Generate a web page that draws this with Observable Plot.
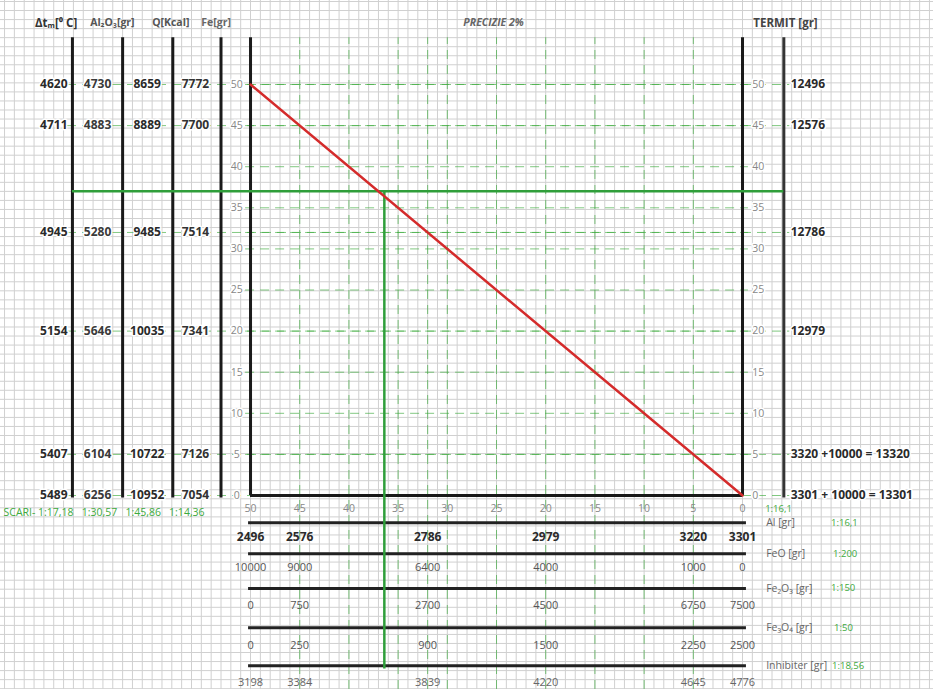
<!DOCTYPE html>
<html>
<head>
<meta charset="utf-8">
<script src="https://cdn.jsdelivr.net/npm/d3@7"></script>
<script src="https://cdn.jsdelivr.net/npm/@observablehq/plot@0.6"></script>
<style>
  html, body { margin: 0; padding: 0; background: #fff; }
  #chart svg { display: block; }
</style>
</head>
<body>
<div id="chart"></div>
<script>
// ---------- data ----------
const percentRows = [50, 45, 32, 20, 5, 0];
const deltaT = [4620, 4711, 4945, 5154, 5407, 5489];
const al2o3 = [4730, 4883, 5280, 5646, 6104, 6256];
const heatQ = [8659, 8889, 9485, 10035, 10722, 10952];
const feGr = [7772, 7700, 7514, 7341, 7126, 7054];
const termit = ["12496", "12576", "12786", "12979", "3320 +10000 = 13320", "3301 + 10000 = 13301"];
const alGr = [2496, 2576, 2786, 2979, 3220, 3301];
const feoGr = [10000, 9000, 6400, 4000, 1000, 0];
const fe2o3Gr = [0, 750, 2700, 4500, 6750, 7500];
const fe3o4Gr = [0, 250, 900, 1500, 2250, 2500];
const inhibGr = [3198, 3384, 3839, 4220, 4645, 4776];
const axisTicks = [50, 45, 40, 35, 30, 25, 20, 15, 10, 5, 0];
const gridLevels = [50, 45, 40, 35, 32, 30, 25, 20, 15, 10, 5];
const gridCols = [45, 40, 35, 32, 30, 25, 20, 15, 10, 5];
const redLine = [{p: 50, v: 50}, {p: 0, v: 0}];
const reading = {p: 36.4, v: 37};
const headers = ["Δtₘ[⁰ C]", "Al₂O₃[gr]", "Q[Kcal]", "Fe[gr]"];
const scari = "SCARI- 1:17,18   1:30,57   1:45,86   1:14,36";
const rowNames = ["Al [gr]", "FeO [gr]", "Fe₂O₃ [gr]", "Fe₃O₄ [gr]", "Inhibiter [gr]"];
const rowScales = ["1:16,1", "1:200", "1:150", "1:50", "1:18,56"];

// ---------- layout (in chart units) ----------
const colLineX = [68.1, 63.0, 57.9, 53.0];
const termitX = -4.2;
const topV = 55.7;
const bottomLinesV = [-3.3, -7.1, -11.3, -16.1, -20.7];
const bottomRowsV = [-5.1, -8.8, -13.4, -18.3, -22.8];
const scaleLabelX = [-9.0, -9.2, -9.0, -9.3, -9.1];
const headerV = 57.5;

const rows = (arr) => arr.map((d, i) => ({p: percentRows[i], t: String(d)}));
const GREEN = "#3daa3d";
const FONT = "'Open Sans', 'Liberation Sans', sans-serif";
const halo = {stroke: "white", strokeWidth: 3, paintOrder: "stroke"};

const chart = Plot.plot({
  width: 933,
  height: 689,
  margin: 0,
  x: {domain: [75.41, -19.41], range: [0, 933], axis: null},
  y: {domain: [-23.6, 60.22], range: [689, 0], axis: null},
  style: {background: "white", fontFamily: FONT},
  marks: [
    // graph paper
    Plot.ruleX(d3.range(-19, 76, 1), {stroke: "#d0d0d0", strokeWidth: 1}),
    Plot.ruleY(d3.range(-23.5, 60.3, 1.1), {stroke: "#d0d0d0", strokeWidth: 1}),

    // dashed green grid
    Plot.ruleX(gridCols, {y1: -23.6, y2: topV, stroke: GREEN, strokeOpacity: 0.65, strokeDasharray: "9,6", strokeWidth: 1}),
    Plot.ruleY(gridLevels, {x1: 50.5, x2: -0.6, stroke: GREEN, strokeOpacity: 0.65, strokeDasharray: "9,6", strokeWidth: 1}),
    Plot.ruleY(percentRows, {x1: 68.6, x2: -4.8, stroke: GREEN, strokeOpacity: 0.65, strokeDasharray: "9,6", strokeWidth: 1}),

    // left column axes
    Plot.ruleX(colLineX, {y1: -0.3, y2: topV, stroke: "#1a1a1a", strokeWidth: 3}),
    // main frame
    Plot.ruleX([50, 0], {y1: 0, y2: topV, stroke: "#1a1a1a", strokeWidth: 3}),
    Plot.ruleY([0], {x1: 50, x2: 0, stroke: "#1a1a1a", strokeWidth: 3}),
    Plot.ruleX([termitX], {y1: -0.3, y2: topV, stroke: "#333", strokeWidth: 3}),

    // bottom scale lines
    Plot.ruleY(bottomLinesV, {x1: 50.2, x2: -0.4, stroke: "#222", strokeWidth: 3}),

    // reading lines
    Plot.ruleY([reading.v], {x1: colLineX[0], x2: termitX, stroke: "#2f9e3a", strokeWidth: 2.5}),
    Plot.ruleX([reading.p], {y1: reading.v, y2: -21.1, stroke: "#2f9e3a", strokeWidth: 2.5}),

    // red line
    Plot.line(redLine, {x: "p", y: "v", stroke: "#d42b2b", strokeWidth: 2.5}),

    // headers
    Plot.text([headers[0]], {x: 71.9, y: headerV, text: d => d, textAnchor: "start", fontSize: 11.5, fontWeight: "bold", fill: "#333"}),
    Plot.text([headers[1]], {x: 66.3, y: headerV, text: d => d, textAnchor: "start", fontSize: 10.5, fontWeight: "bold", fill: "#555"}),
    Plot.text([headers[2]], {x: 60.0, y: headerV, text: d => d, textAnchor: "start", fontSize: 10.5, fontWeight: "bold", fill: "#555"}),
    Plot.text([headers[3]], {x: 55.0, y: headerV, text: d => d, textAnchor: "start", fontSize: 10.5, fontWeight: "bold", fill: "#666"}),
    Plot.text(["PRECIZIE 2%"], {x: 25.3, y: headerV, text: d => d, fontSize: 10.5, fontWeight: "bold", fontStyle: "italic", fill: "#666"}),
    Plot.text(["TERMIT [gr]"], {x: -1.1, y: headerV, text: d => d, textAnchor: "start", fontSize: 11.5, fontWeight: "bold", fill: "#444"}),

    // left column values
    Plot.text(rows(deltaT), {x: 68.6, y: "p", text: "t", textAnchor: "end", fontSize: 12, fontWeight: "bold", fill: "#2a2a2a", ...halo}),
    Plot.text(rows(al2o3), {x: 65.55, y: "p", text: "t", fontSize: 12, fontWeight: "bold", fill: "#3a3a3a", ...halo}),
    Plot.text(rows(heatQ), {x: 60.5, y: "p", text: "t", fontSize: 12, fontWeight: "bold", fill: "#2a2a2a", ...halo}),
    Plot.text(rows(feGr), {x: 55.6, y: "p", text: "t", fontSize: 12, fontWeight: "bold", fill: "#333", ...halo}),

    // main axis numbers
    Plot.text(axisTicks, {x: 51.4, y: d => d, text: d => String(d), fontSize: 10.5, fill: "#888", ...halo}),
    Plot.text(axisTicks, {x: -1.0, y: d => d, text: d => String(d), textAnchor: "start", fontSize: 10.5, fill: "#888", ...halo}),
    Plot.text(axisTicks, {x: d => d, y: -1.6, text: d => String(d), fontSize: 10.5, fill: "#888"}),

    // termit values
    Plot.text(rows(termit), {x: -4.9, y: "p", text: "t", textAnchor: "start", fontSize: 12, fontWeight: "bold", fill: "#2a2a2a", ...halo}),

    // scale note
    Plot.text([scari], {x: 75.1, y: -2.1, text: d => d, textAnchor: "start", fontSize: 10.5, fill: GREEN}),
    Plot.text([rowScales[0]], {x: -2.3, y: -1.6, text: d => d, textAnchor: "start", fontSize: 9.5, fill: GREEN}),

    // bottom scale values
    Plot.text(rows(alGr), {x: "p", y: bottomRowsV[0], text: "t", fontSize: 12, fontWeight: "bold", fill: "#2a2a2a"}),
    Plot.text(rows(feoGr), {x: "p", y: bottomRowsV[1], text: "t", fontSize: 11, fill: "#555"}),
    Plot.text(rows(fe2o3Gr), {x: "p", y: bottomRowsV[2], text: "t", fontSize: 11, fill: "#555"}),
    Plot.text(rows(fe3o4Gr), {x: "p", y: bottomRowsV[3], text: "t", fontSize: 11, fill: "#555"}),
    Plot.text(rows(inhibGr), {x: "p", y: bottomRowsV[4], text: "t", fontSize: 11, fill: "#666"}),

    // bottom row names & scales
    Plot.text(rowNames, {x: -2.4, y: (d, i) => bottomLinesV[i], text: d => d, textAnchor: "start", fontSize: 10.5, fill: "#666"}),
    Plot.text(rowScales, {x: (d, i) => scaleLabelX[i], y: (d, i) => bottomLinesV[i], text: d => d, textAnchor: "start", fontSize: 9.5, fill: GREEN})
  ]
});

document.getElementById("chart").appendChild(chart);
</script>
</body>
</html>
